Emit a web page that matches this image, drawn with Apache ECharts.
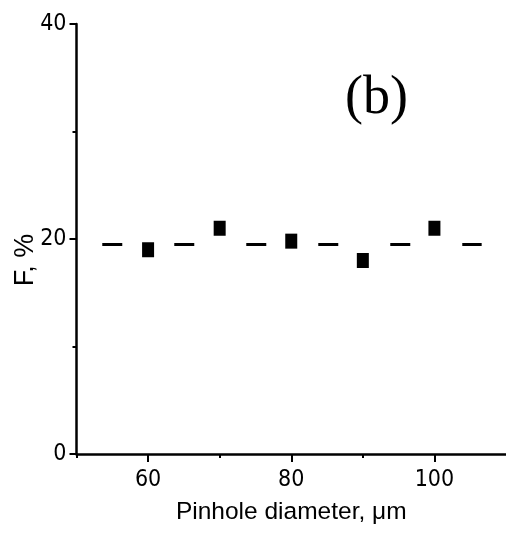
<!DOCTYPE html>
<html>
<head>
<meta charset="utf-8">
<script src="https://cdn.jsdelivr.net/npm/echarts@6/dist/echarts.min.js"></script>
<style>html,body{margin:0;padding:0;background:#fff}#c{width:506px;height:535px}</style>
</head>
<body>
<div id="c"></div>
<script>
// Data
var diameters = [60, 70, 80, 90, 100];
var fValues = [19.0, 21.0, 19.8, 18.0, 21.0];
var meanLineX = [53.6, 106.6];
var meanLineY = [19.5, 19.5];
var xMajorTicks = [60, 80, 100];
var xMinorTicks = [50, 70, 90];
var yTicks = [0, 20, 40];

var chart = echarts.init(document.getElementById('c'), null, {renderer: 'canvas'});
var font = '"Liberation Sans", Arial, sans-serif';
var narrow = '"Liberation Sans Narrow", "Arial Narrow", "DejaVu Sans Condensed", sans-serif';
var scatterData = diameters.map(function (d, i) { return [d, fValues[i]]; });
var lineData = meanLineX.map(function (x, i) { return [x, meanLineY[i]]; });

chart.setOption({
  animation: false,
  backgroundColor: '#fff',
  grid: {left: 76.5, top: 24, right: 0, bottom: 81, containLabel: false},
  xAxis: [{
    type: 'value', min: 50, max: 110, position: 'bottom',
    axisLine: {show: true, lineStyle: {color: '#000', width: 2.5}},
    axisTick: {show: true, customValues: xMajorTicks, length: 8, lineStyle: {color: '#000', width: 2}},
    axisLabel: {show: true, customValues: xMajorTicks, margin: 15, color: '#000', fontSize: 23, fontFamily: narrow},
    splitLine: {show: false},
    name: 'Pinhole diameter, \u03bcm', nameLocation: 'middle', nameGap: 46,
    nameTextStyle: {color: '#000', fontSize: 24.5, fontFamily: font}
  }, {
    type: 'value', min: 50, max: 110, position: 'bottom',
    axisLine: {show: false},
    axisTick: {show: true, customValues: xMinorTicks, length: 4, lineStyle: {color: '#000', width: 2}},
    axisLabel: {show: false},
    splitLine: {show: false}
  }],
  yAxis: {
    type: 'value', min: 0, max: 40, interval: 20,
    axisLine: {show: true, lineStyle: {color: '#000', width: 2.5}},
    axisTick: {show: true, length: 7, lineStyle: {color: '#000', width: 2}},
    minorTick: {show: true, splitNumber: 2, length: 4, lineStyle: {color: '#000', width: 2}},
    axisLabel: {margin: 10, color: '#000', fontSize: 23, fontFamily: narrow,
      formatter: function (v) { return yTicks.indexOf(v) >= 0 ? String(v) : ''; }},
    splitLine: {show: false}
  },
  graphic: [
    {type: 'text', x: 26, y: 260, rotation: Math.PI / 2,
     style: {text: 'F, %', fill: '#000', font: '27px ' + font, align: 'center', verticalAlign: 'middle'}},
    {type: 'text', x: 345, y: 99,
     style: {text: '(b)', fill: '#000', font: '54px "Liberation Serif", "Times New Roman", serif', align: 'left', verticalAlign: 'middle'}}
  ],
  series: [{
    type: 'line', xAxisIndex: 0, data: lineData, symbol: 'none',
    lineStyle: {color: '#000', width: 3, type: [20, 52], dashOffset: 0}
  }, {
    type: 'scatter', xAxisIndex: 0, data: scatterData, symbol: 'rect', symbolSize: [12, 15],
    itemStyle: {color: '#000', opacity: 1}
  }]
});
</script>
</body>
</html>
